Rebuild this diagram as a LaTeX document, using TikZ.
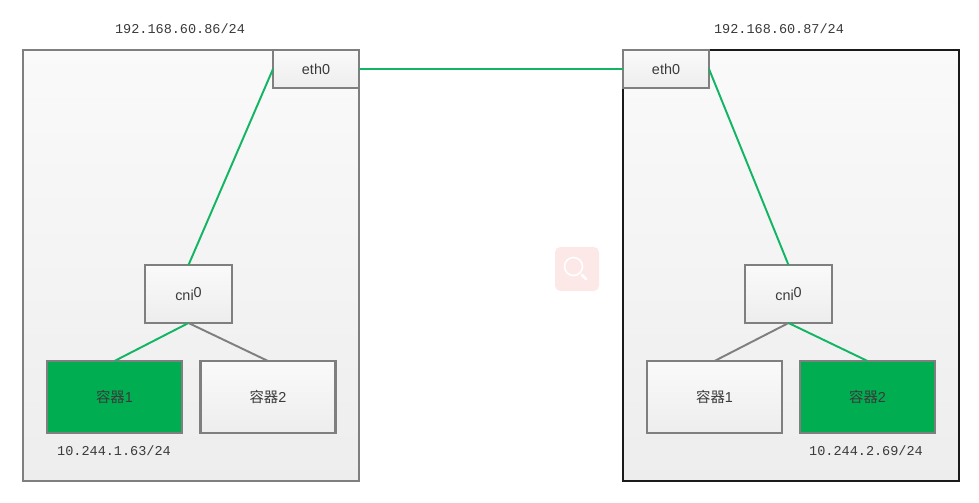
\documentclass[tikz,border=0pt]{standalone}
\usepackage{fontspec}
\setmainfont{Liberation Sans}
\setmonofont{Liberation Mono}
\newfontfamily\cjk{Noto Sans CJK SC}
\usepackage{xcolor}
\usepackage{tikz}
\usetikzlibrary{positioning}
\definecolor{linkGreen}{HTML}{12B563}
\definecolor{boxGray}{HTML}{7F7F7F}
\definecolor{hostBlack}{HTML}{1A1A1A}
\definecolor{conGreen}{HTML}{00AD50}
\definecolor{labelText}{HTML}{3A3A3A}
\definecolor{badgePink}{HTML}{FDE8E8}
\tikzset{
  hostbox/.style={draw=boxGray, top color=white!98!black, bottom color=white!93!black,
        line width=1.3pt, minimum width=6.72cm, minimum height=8.62cm, outer sep=0pt},
  ifbox/.style={draw=boxGray, top color=white!98!black, bottom color=white!93!black,
        line width=1.3pt, outer sep=0pt, align=center, text=labelText, font=\fontsize{8.2}{10}\selectfont},
  con/.style={ifbox, minimum width=2.70cm, minimum height=1.44cm},
  congreen/.style={draw=boxGray, fill=conGreen, line width=1.3pt, outer sep=0pt,
        minimum width=2.70cm, minimum height=1.44cm, align=center,
        text=labelText, font=\fontsize{8.2}{10}\selectfont},
  link/.style={draw=linkGreen, line width=1.1pt},
  idle/.style={draw=boxGray, line width=1.1pt},
  ip/.style={font=\ttfamily\fontsize{7.7}{10}\selectfont, text=labelText, inner sep=0pt}
}

\begin{document}
\begin{tikzpicture}
\useasboundingbox (0,0) rectangle (19.58,10.04);

% hosts
\node[hostbox] (hostA) at (3.82,4.73) {};
\node[hostbox, draw=hostBlack] (hostB) at (15.82,4.73) {};

\node[ip] (ipA) at (3.60,9.46) {192.168.60.86/24};
\node[ip] (ipB) at (15.58,9.46) {192.168.60.87/24};

\node[ifbox, minimum width=1.72cm, minimum height=0.76cm] (ethA) at (6.32,8.66) {eth0};
\node[ifbox, minimum width=1.72cm, minimum height=0.76cm] (ethB) at (13.32,8.66) {eth0};

\node[ifbox, minimum width=1.74cm, minimum height=1.16cm] (cniA) at (3.77,4.16) {cni\raisebox{2.2pt}{0}};
\node[ifbox, minimum width=1.74cm, minimum height=1.16cm] (cniB) at (15.77,4.16) {cni\raisebox{2.2pt}{0}};

% containers
\node[congreen] (conA1) at (2.29,2.10) {{\cjk 容器}1};
\node[con] (conA2) at (5.36,2.10) {{\cjk 容器}2};
\node[con] (conB1) at (14.29,2.10) {{\cjk 容器}1};
\node[congreen] (conB2) at (17.35,2.10) {{\cjk 容器}2};

\node[ip] (ipA1) at (2.28,1.02) {10.244.1.63/24};
\node[ip] (ipB2) at (17.32,1.02) {10.244.2.69/24};

% links
\draw[link] (ethA.east) -- (ethB.west);
\draw[link] (ethA.west) -- (cniA.north);
\draw[link] (ethB.east) -- (cniB.north);
\draw[link] (cniA.south) -- (conA1.north);
\draw[idle] (cniA.south) -- (conA2.north);
\draw[idle] (cniB.south) -- (conB1.north);
\draw[link] (cniB.south) -- (conB2.north);

% search badge
\fill[badgePink, rounded corners=3pt] (11.10,4.22) rectangle (11.98,5.10);
\draw[white, line width=0.9pt] (11.47,4.71) circle (0.18);
\draw[white, line width=1.6pt, line cap=round] (11.64,4.54) -- (11.72,4.46);
\end{tikzpicture}
\end{document}
